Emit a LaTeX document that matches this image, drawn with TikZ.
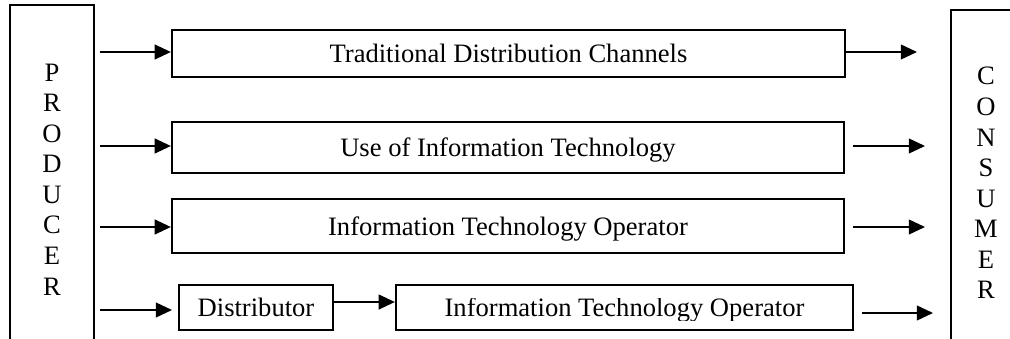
\documentclass[tikz,border=0pt]{standalone}
\usepackage{fontspec}
\setmainfont{Liberation Serif}
\usepackage{trimclip}
\usetikzlibrary{arrows.meta}
\tikzstyle{bx}=[draw=black,line width=1.6pt,inner sep=0pt,text height=13.5pt,text depth=0pt]
\tikzstyle{side}=[draw=black,line width=1.2pt]
\tikzstyle{arr}=[line width=1.3pt,-{Triangle[length=11.5pt,width=10.5pt]}]

\begin{document}
\begin{tikzpicture}[x=0.025cm,y=-0.025cm,font=\fontsize{18.9pt}{21.7pt}\selectfont]
\useasboundingbox (0,0) rectangle (1010,339);
% producer and consumer (open at the bottom)
\draw[side] (10,339) -- (10,5) -- (94,5) -- (94,339);
\draw[side] (951,339) -- (951,10) -- (1015,10);
\node[align=center] (prod) at (52,179.5) {P\\R\\O\\D\\U\\C\\E\\R};
\node[align=center] (cons) at (986,183) {C\\O\\N\\S\\U\\M\\E\\R};
% channels
\node[bx,minimum width=673*0.025cm,minimum height=47*0.025cm] (tdc) at (508.5,53.5) {Traditional Distribution Channels};
\node[bx,minimum width=672*0.025cm,minimum height=51*0.025cm] (uit) at (508,147.5) {Use of Information Technology};
\node[bx,minimum width=672*0.025cm,minimum height=54*0.025cm] (ito) at (508,226) {Information Technology Operator};
\node[bx,minimum width=154*0.025cm,minimum height=45*0.025cm] (dist) at (256,307.5) {Distributor};
\node[bx,minimum width=457*0.025cm,minimum height=45*0.025cm] (itop) at (624.5,307.5) {\clipbox{0pt 1.3pt 0pt 0pt}{Information Technology Operator}};
% free arrow ends
\coordinate (p1) at (100,52); \coordinate (p2) at (100,146); \coordinate (p3) at (100,227); \coordinate (p4) at (100,310);
\coordinate (d4) at (172,310);
\coordinate (c1) at (917,52);
\coordinate (s2) at (853,146); \coordinate (c2) at (925,146);
\coordinate (s3) at (853,227); \coordinate (c3) at (925,227);
\coordinate (s4) at (862,313); \coordinate (c4) at (933,313);
\draw[arr] (p1) -- (p1 -| tdc.west);
\draw[arr] (p2) -- (p2 -| uit.west);
\draw[arr] (p3) -- (p3 -| ito.west);
\draw[arr] (p4) -- (d4);
\draw[arr] ([yshift=3.9pt]dist.east) -- ([yshift=3.9pt]itop.west);
\draw[arr] (tdc.east |- c1) -- (c1);
\draw[arr] (s2) -- (c2);
\draw[arr] (s3) -- (c3);
\draw[arr] (s4) -- (c4);
\end{tikzpicture}
\end{document}
